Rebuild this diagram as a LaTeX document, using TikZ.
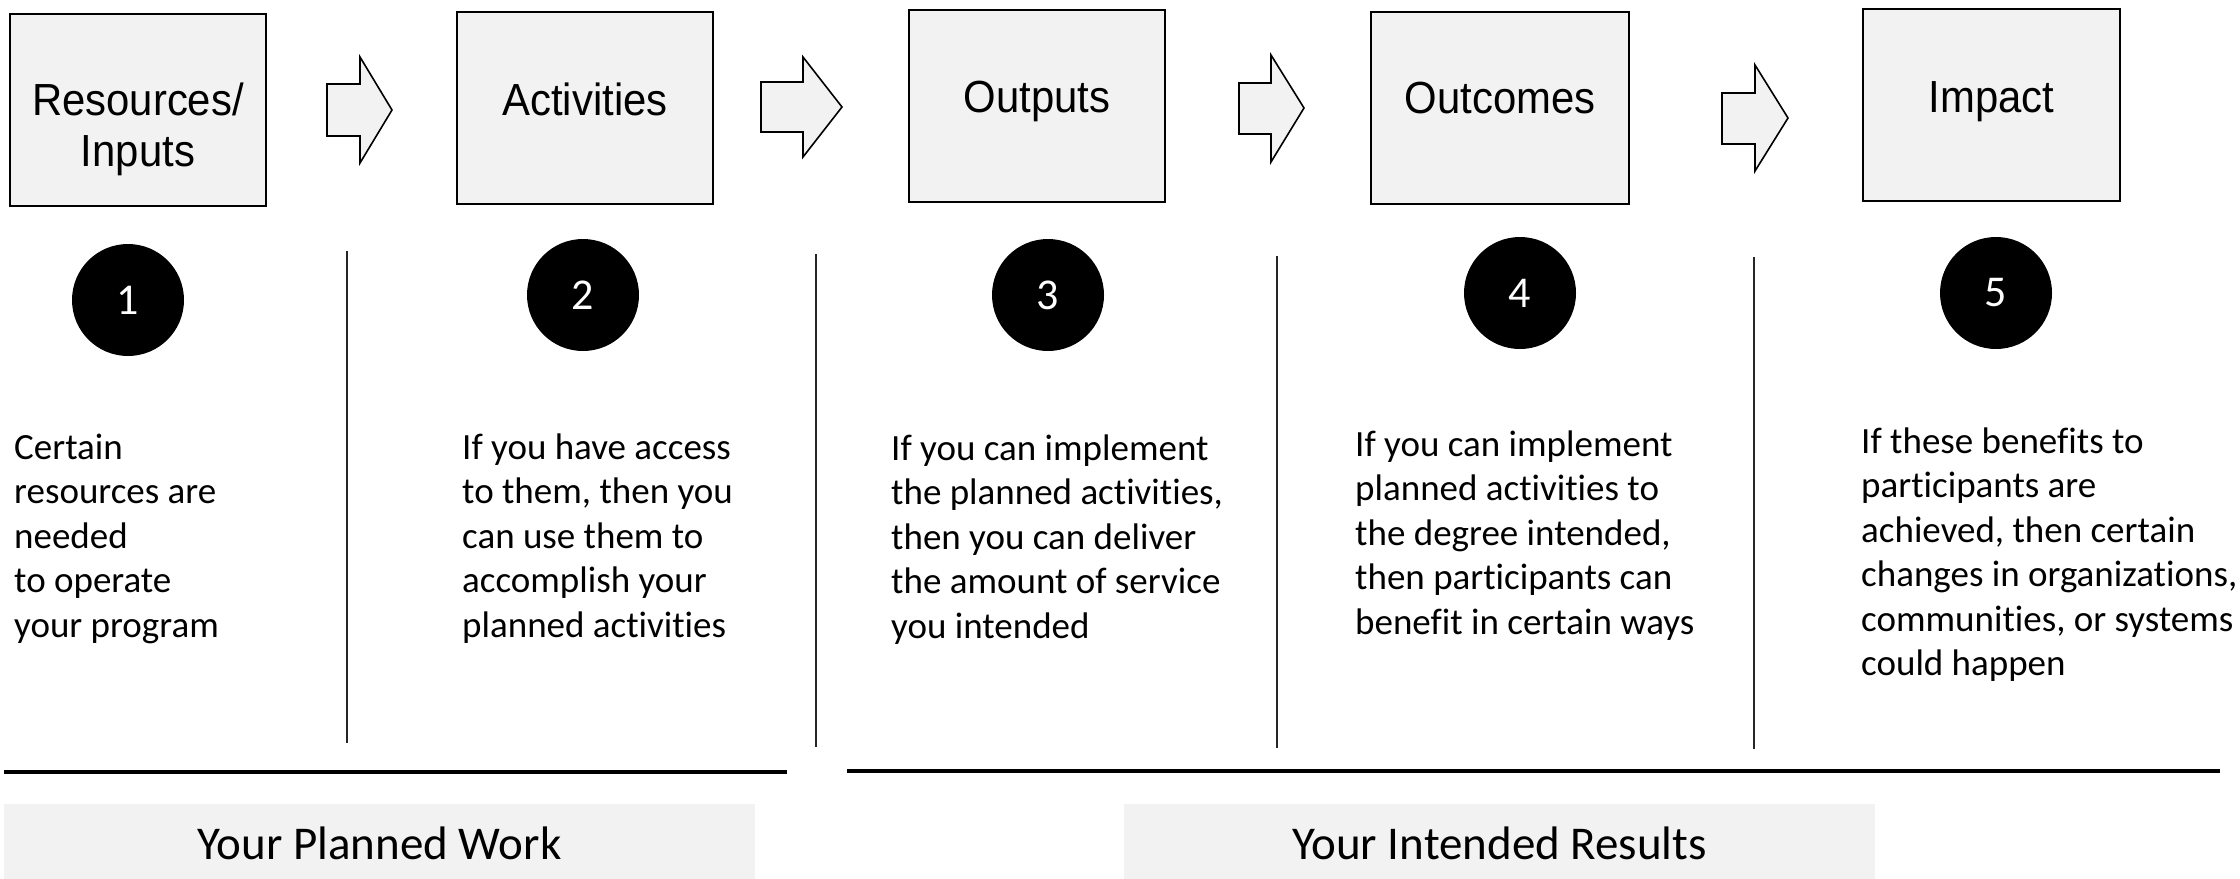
\documentclass[tikz,border=0pt]{standalone}
\usepackage{fontspec}
\setmainfont{Carlito}[Ligatures=NoCommon]
\newfontfamily\arialf{Liberation Sans}[FakeStretch=0.93]
\definecolor{boxgray}{HTML}{F2F2F2}
\begin{document}
\begin{tikzpicture}[x=1pt,y=-1pt,
  stagebox/.style={draw=black, line width=2pt, fill=boxgray, inner sep=0pt, minimum height=192pt},
  stagelabel/.style={anchor=base, inner sep=0pt, font=\arialf\fontsize{45}{51}\selectfont},
  blockarr/.style={draw=black, line width=1.6pt, fill=boxgray, line join=miter},
  numdot/.style={circle, fill=black, inner sep=0pt, minimum size=112pt, text=white, font=\fontsize{44}{52}\selectfont},
  bodytext/.style={anchor=base west, inner sep=0pt, font=\fontsize{37}{44.5}\selectfont},
  sepline/.style={draw=black!85, line width=1.4pt},
  groupline/.style={draw=black, line width=4pt},
  groupbox/.style={fill=boxgray, inner sep=0pt, minimum height=75pt},
  grouplabel/.style={anchor=base, inner sep=0pt, font=\fontsize{47}{56}\selectfont}
]
\useasboundingbox (0,0) rectangle (2240,878);

% stage boxes
\node[stagebox, minimum width=256pt] (b1) at (138,110) {};
\node[stagebox, minimum width=256pt] (b2) at (585,108) {};
\node[stagebox, minimum width=256pt] (b3) at (1037,106) {};
\node[stagebox, minimum width=258pt] (b4) at (1500,108) {};
\node[stagebox, minimum width=257pt] (b5) at (1991.5,105) {};

\node[stagelabel] (l1) at (138,115) {\begin{tabular}[t]{@{}c@{}}Resources/\\Inputs\end{tabular}};
\node[stagelabel] (l2) at (585,115) {Activities};
\node[stagelabel] (l3) at (1037,112) {Outputs};
\node[stagelabel] (l4) at (1500,113) {Outcomes};
\node[stagelabel] (l5) at (1991.5,112) {Impact};

% block arrows
\draw[blockarr] (327,84) -- (360,84) -- (360,57) -- (392,110) -- (360,163) -- (360,136) -- (327,136) -- cycle;
\draw[blockarr] (761,82) -- (803,82) -- (803,57) -- (842,107) -- (803,157) -- (803,132) -- (761,132) -- cycle;
\draw[blockarr] (1239,83) -- (1271,83) -- (1271,55) -- (1304,108) -- (1271,162) -- (1271,134) -- (1239,134) -- cycle;
\draw[blockarr] (1722,93) -- (1755,93) -- (1755,65) -- (1788,118) -- (1755,171) -- (1755,144) -- (1722,144) -- cycle;

% numbered circles
\node[numdot] (n1) at (128,300) {1};
\node[numdot] (n2) at (583,295) {2};
\node[numdot] (n3) at (1048,295) {3};
\node[numdot] (n4) at (1520,293) {4};
\node[numdot] (n5) at (1996,293) {5};

% separators
\draw[sepline] (347,251) -- (347,743);
\draw[sepline] (816,254) -- (816,747);
\draw[sepline] (1277,256) -- (1277,748);
\draw[sepline] (1754,257) -- (1754,749);

% body texts
\node[bodytext] (c1) at (14,459) {\begin{tabular}[t]{@{}l@{}}Certain\\resources are\\needed\\to operate\\your program\end{tabular}};
\node[bodytext] (c2) at (462,459) {\begin{tabular}[t]{@{}l@{}}If you have access\\to them, then you\\can use them to\\accomplish your\\planned activities\end{tabular}};
\node[bodytext] (c3) at (891,460) {\begin{tabular}[t]{@{}l@{}}If you can implement\\the planned activities,\\then you can deliver\\the amount of service\\you intended\end{tabular}};
\node[bodytext] (c4) at (1355,456) {\begin{tabular}[t]{@{}l@{}}If you can implement\\planned activities to\\the degree intended,\\then participants can\\benefit in certain ways\end{tabular}};
\node[bodytext] (c5) at (1861,453) {\begin{tabular}[t]{@{}l@{}}If these benefits to\\participants are\\achieved, then certain\\changes in organizations,\\communities, or systems\\could happen\end{tabular}};

% group lines
\draw[groupline] (4,772) -- (787,772);
\draw[groupline] (847,771) -- (2220,771);

% group labels
\node[groupbox, minimum width=751pt] (g1) at (379.5,841.5) {};
\node[groupbox, minimum width=751pt] (g2) at (1499.5,841) {};
\node[grouplabel] (gl1) at (379.5,859) {Your Planned Work};
\node[grouplabel] (gl2) at (1499.5,859) {Your Intended Results};
\end{tikzpicture}
\end{document}
